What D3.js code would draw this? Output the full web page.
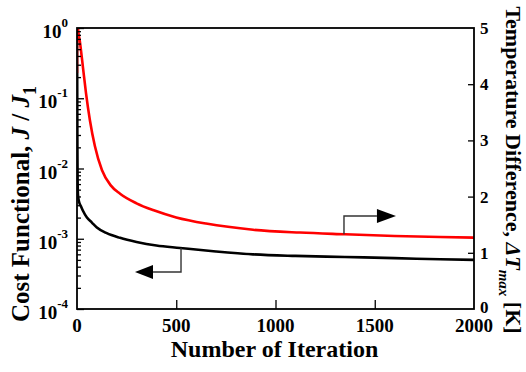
<!DOCTYPE html>
<html><head><meta charset="utf-8">
<script src="https://cdn.jsdelivr.net/npm/d3@7/dist/d3.min.js"></script>
<style>body{margin:0;background:#fff}svg{display:block}text{font-family:"Liberation Serif","Times New Roman",serif;font-weight:bold}</style>
</head><body><svg id="c" width="526" height="372"></svg>
<script>
// Cost functional J/J1 (left, log axis) vs iteration
const costIter = [0, 1, 2, 3, 5, 10, 20, 30, 50, 75, 100, 150, 217, 300, 400, 519, 700, 887, 1100, 1350, 1600, 1829, 2000];
const costVal  = [1, 0.2, 0.02, 0.007, 0.0042, 0.0034, 0.0029, 0.0025, 0.0020, 0.0017, 0.00145, 0.0012, 0.00103, 0.0009, 0.0008, 0.00074, 0.00066, 0.0006, 0.00057, 0.00055, 0.00053, 0.00051, 0.0005];
// Temperature difference (right, linear axis) vs iteration
const tempIter = [0, 1, 5, 15, 30, 45, 65, 90, 126, 170, 217, 300, 383, 500, 650, 887, 1123, 1350, 1600, 1829, 2000];
const tempVal  = [4.2, 5.3, 5.0, 4.75, 4.3, 3.85, 3.36, 2.9, 2.47, 2.2, 2.05, 1.88, 1.76, 1.63, 1.52, 1.41, 1.36, 1.33, 1.30, 1.28, 1.27];
const xTicks = [0, 500, 1000, 1500, 2000];
const leftExp = [0, -1, -2, -3, -4];
const rightTicks = [0, 1, 2, 3, 4, 5];
// arrow annotations (iteration of shaft, curve value, shaft value, tip/base iterations)
const arrowCost = {at: 524, curve: 7.4e-4, shaft: 3.36e-4, tip: 292, base: 383};
const arrowTemp = {at: 1345, curve: 1.33, shaft: 1.655, tip: 1607, base: 1511};

const svg = d3.select("#c");
const L = 77, R = 474, T = 28, B = 309;
const x = d3.scaleLinear().domain([0, 2000]).range([L, R]);
const yL = d3.scaleLog().domain([1e-4, 1]).range([B, T]);
const yR = d3.scaleLinear().domain([0, 5]).range([B, T]);

svg.append("defs").append("clipPath").attr("id", "clip")
  .append("rect").attr("x", L).attr("y", T).attr("width", R - L).attr("height", B - T);

// curves
const costData = costIter.map((d, i) => [d, costVal[i]]);
const tempData = tempIter.map((d, i) => [d, tempVal[i]]);
const g = svg.append("g").attr("clip-path", "url(#clip)");
g.append("path").datum(costData).attr("fill", "none").attr("stroke", "#000").attr("stroke-width", 2.6)
  .attr("d", d3.line().x(d => x(d[0])).y(d => yL(d[1])).curve(d3.curveMonotoneX));
g.append("path").datum(tempData).attr("fill", "none").attr("stroke", "#ff0000").attr("stroke-width", 2.6)
  .attr("d", d3.line().x(d => x(d[0])).y(d => yR(d[1])).curve(d3.curveMonotoneX));

// axes (ticks inside)
const axB = d3.axisBottom(x).tickValues(xTicks.slice(1, -1)).tickSize(-9).tickFormat("");
svg.append("g").attr("transform", `translate(0,${B})`).call(axB);
const majors = leftExp.map(e => Math.pow(10, e));
const minors = [];
for (let e = -4; e < 0; e++) for (let k = 2; k <= 9; k++) minors.push(k * Math.pow(10, e));
svg.append("g").attr("transform", `translate(${L},0)`).call(d3.axisLeft(yL).tickValues(majors).tickSize(-7).tickFormat(""));
svg.append("g").attr("transform", `translate(${L},0)`).call(d3.axisLeft(yL).tickValues(minors).tickSize(-4).tickFormat(""));
svg.append("g").attr("transform", `translate(${R},0)`).call(d3.axisRight(yR).tickValues(rightTicks.slice(1, -1)).tickSize(-6).tickFormat(""));
svg.selectAll(".domain").remove();
svg.selectAll(".tick line").attr("stroke", "#000").attr("stroke-width", 1.3);
svg.append("rect").attr("x", L).attr("y", T).attr("width", R - L).attr("height", B - T)
  .attr("fill", "none").attr("stroke", "#000").attr("stroke-width", 1.8);

// tick labels
xTicks.forEach(v => svg.append("text").attr("x", x(v)).attr("y", 332).attr("text-anchor", "middle")
  .attr("font-size", 19).text(v));
leftExp.forEach(e => {
  const t = svg.append("text").attr("x", 68).attr("y", yL(Math.pow(10, e)) + 10).attr("text-anchor", "end").attr("font-size", 19);
  t.append("tspan").text("10");
  t.append("tspan").attr("dy", -11).attr("font-size", 13).text(String(e));
});
rightTicks.forEach(v => svg.append("text").attr("x", 480).attr("y", yR(v) + (v === 0 ? 4 : 6)).attr("font-size", 17).text(v));

// axis titles
svg.append("text").attr("x", (L + R) / 2 - 1).attr("y", 357).attr("text-anchor", "middle").attr("font-size", 24).text("Number of Iteration");
const lt = svg.append("text").attr("transform", "translate(29,204) rotate(-90)").attr("text-anchor", "middle").attr("font-size", 25);
lt.append("tspan").text("Cost Functional, ");
lt.append("tspan").attr("font-style", "italic").text("J");
lt.append("tspan").text(" / ");
lt.append("tspan").attr("font-style", "italic").text("J");
lt.append("tspan").attr("dy", 7).attr("font-size", 18).text("1");
const rt = svg.append("text").attr("transform", "translate(506,170) rotate(90)").attr("text-anchor", "middle").attr("font-size", 22);
rt.append("tspan").text("Temperature Difference, ");
rt.append("tspan").attr("font-style", "italic").text("ΔT");
rt.append("tspan").attr("dy", 7).attr("font-size", 15).attr("font-style", "italic").text("max");
rt.append("tspan").attr("dy", -7).text(" [K]");

// arrows
function arrow(a, yCurve, yShaft) {
  const xa = x(a.at), xt = x(a.tip), xb = x(a.base);
  svg.append("path").attr("fill", "none").attr("stroke", "#333").attr("stroke-width", 1.4)
    .attr("d", `M${xa},${yCurve}V${yShaft}H${xb}`);
  svg.append("path").attr("fill", "#000")
    .attr("d", `M${xt},${yShaft}L${xb},${yShaft - 7}L${xb},${yShaft + 7}Z`);
}
arrow(arrowCost, yL(arrowCost.curve), yL(arrowCost.shaft));
arrow(arrowTemp, yR(arrowTemp.curve), yR(arrowTemp.shaft));
</script></body></html>
